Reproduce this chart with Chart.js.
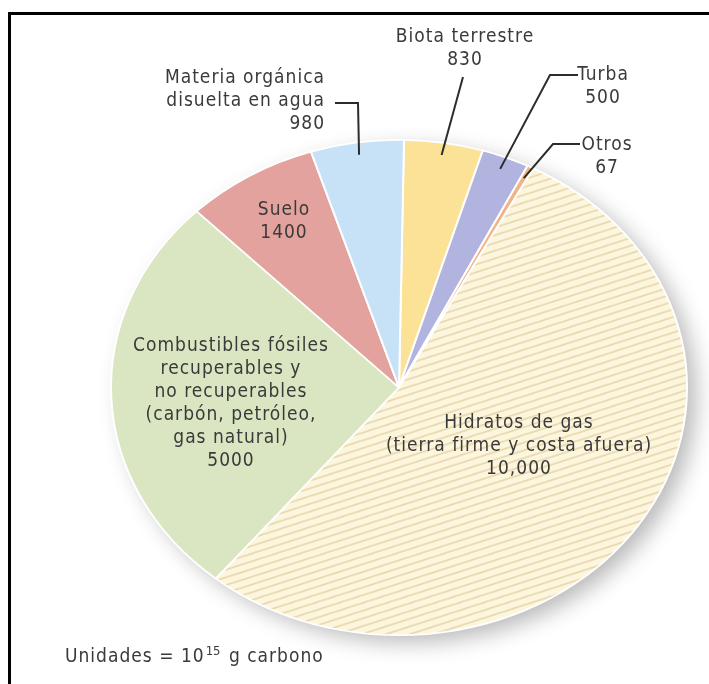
<!DOCTYPE html>
<html>
<head>
<meta charset="utf-8">
<script src="https://cdn.jsdelivr.net/npm/chart.js@4"></script>
<style>
  html, body { margin: 0; padding: 0; background: #fff; }
  #wrap { position: relative; width: 709px; height: 684px; }
</style>
</head>
<body>
<div id="wrap"><canvas id="chart" width="709" height="684"></canvas></div>
<script>
// slices clockwise from the top
const names = [
  "Biota terrestre",
  "Turba",
  "Otros",
  "Hidratos de gas\n(tierra firme y costa afuera)",
  "Combustibles fósiles\nrecuperables y\nno recuperables\n(carbón, petróleo,\ngas natural)",
  "Suelo",
  "Materia orgánica\ndisuelta en agua",
];
const values = [830, 500, 67, 10000, 5000, 1400, 980];
const unitsText = ["Unidades = 10", "15", " g carbono"];

const SLICE_COLORS = ["#fbe296", "#b1b4df", "#f2b385", null, "#d9e6c1", "#e3a29d", "#c7e2f6"];
const TEXT_COLOR = "#3a3a3a";
const FONT = '"DejaVu Sans Condensed", "DejaVu Sans", sans-serif';
const SY = 0.86; // vertical squash, the pie is a bit flat
const LINE_H = 23;

// where each label sits; leader goes through the elbows to the slice
const labelLayout = [
  { x: 465, y: 37, align: "center", elbows: [[463, 77]] },
  { x: 603, y: 75, align: "center", from: [578, 75], elbows: [[550, 75]] },
  { x: 607, y: 145, align: "center", from: [580, 144], elbows: [[553, 144]] },
  { x: 519, y: 423, align: "center" },
  { x: 231, y: 346, align: "center" },
  { x: 284, y: 210, align: "center" },
  { x: 325, y: 78, align: "right", from: [335, 103], elbows: [[358, 103]] },
];

const fmt = (v) => (v >= 10000 ? v.toLocaleString("en-US") : String(v));

// striped fill for the gas hydrates
const stripes = (() => {
  const c = document.createElement("canvas");
  c.width = 24;
  c.height = 9;
  const g = c.getContext("2d");
  g.fillStyle = "#fdf6de";
  g.fillRect(0, 0, 24, 9);
  g.strokeStyle = "#e8d8ad";
  g.lineWidth = 2;
  for (const dy of [-9, 0, 9]) {
    g.beginPath();
    g.moveTo(0, 9 + dy);
    g.lineTo(24, dy);
    g.stroke();
  }
  return g.createPattern(c, "repeat");
})();

const squash = (ctx, meta) => {
  const a = meta.data[0];
  ctx.translate(a.x, a.y);
  ctx.scale(1, SY);
  ctx.translate(-a.x, -a.y);
};

const setFont = (ctx, size) => {
  ctx.font = size + "px " + FONT;
  ctx.letterSpacing = size > 15 ? "1px" : "0px";
};

const piePlugin = {
  id: "flatPie",
  beforeDraw(chart) {
    const ctx = chart.ctx;
    ctx.save();
    ctx.fillStyle = "#000";
    ctx.fillRect(8, 12, 701, 3);
    ctx.fillRect(8, 12, 3, 672);
    ctx.restore();
  },
  beforeDatasetsDraw(chart) {
    const ctx = chart.ctx;
    const meta = chart.getDatasetMeta(0);
    const a = meta.data[0];
    // soft shadow under the pie
    ctx.save();
    squash(ctx, meta);
    ctx.shadowColor = "rgba(0,0,0,0.28)";
    ctx.shadowBlur = 22;
    ctx.shadowOffsetX = 10;
    ctx.shadowOffsetY = 8;
    ctx.fillStyle = "#fcf4dc";
    ctx.beginPath();
    ctx.arc(a.x, a.y, a.outerRadius - 1, 0, Math.PI * 2);
    ctx.fill();
    ctx.restore();
    ctx.save();
    squash(ctx, meta);
  },
  afterDatasetsDraw(chart) {
    chart.ctx.restore();
  },
  afterDraw(chart) {
    const ctx = chart.ctx;
    const meta = chart.getDatasetMeta(0);
    ctx.save();
    setFont(ctx, 19);
    ctx.fillStyle = TEXT_COLOR;
    ctx.strokeStyle = "#2c2c2c";
    ctx.lineWidth = 2;
    ctx.textBaseline = "middle";

    labelLayout.forEach((L, i) => {
      const arc = meta.data[i];
      const lines = names[i].split("\n").concat(fmt(values[i]));
      ctx.textAlign = L.align;
      lines.forEach((t, k) => ctx.fillText(t, L.x, L.y + k * LINE_H));

      if (L.elbows) {
        const mid = (arc.startAngle + arc.endAngle) / 2;
        const r = arc.outerRadius * 0.95;
        const end = [arc.x + r * Math.cos(mid), arc.y + SY * r * Math.sin(mid)];
        const pts = (L.from ? [L.from] : []).concat(L.elbows, [end]);
        ctx.beginPath();
        ctx.moveTo(pts[0][0], pts[0][1]);
        pts.slice(1).forEach((p) => ctx.lineTo(p[0], p[1]));
        ctx.stroke();
      }
    });

    // units note with superscript
    ctx.textAlign = "left";
    ctx.textBaseline = "alphabetic";
    let x = 65;
    const base = 662;
    ctx.fillText(unitsText[0], x, base);
    x += ctx.measureText(unitsText[0]).width + 1;
    setFont(ctx, 13);
    ctx.fillText(unitsText[1], x, base - 7);
    x += ctx.measureText(unitsText[1]).width + 2;
    setFont(ctx, 19);
    ctx.fillText(unitsText[2], x, base);
    ctx.restore();
  },
};

new Chart(document.getElementById("chart"), {
  type: "pie",
  data: {
    labels: names,
    datasets: [
      {
        data: values,
        backgroundColor: SLICE_COLORS.map((c) => c || stripes),
        borderColor: "#ffffff",
        borderWidth: 2,
      },
    ],
  },
  options: {
    responsive: false,
    animation: false,
    rotation: 1,
    radius: 288,
    layout: { padding: { left: 95, right: 6, top: 100, bottom: 9 } },
    plugins: {
      legend: { display: false },
      tooltip: { enabled: false },
    },
  },
  plugins: [piePlugin],
});
</script>
</body>
</html>
